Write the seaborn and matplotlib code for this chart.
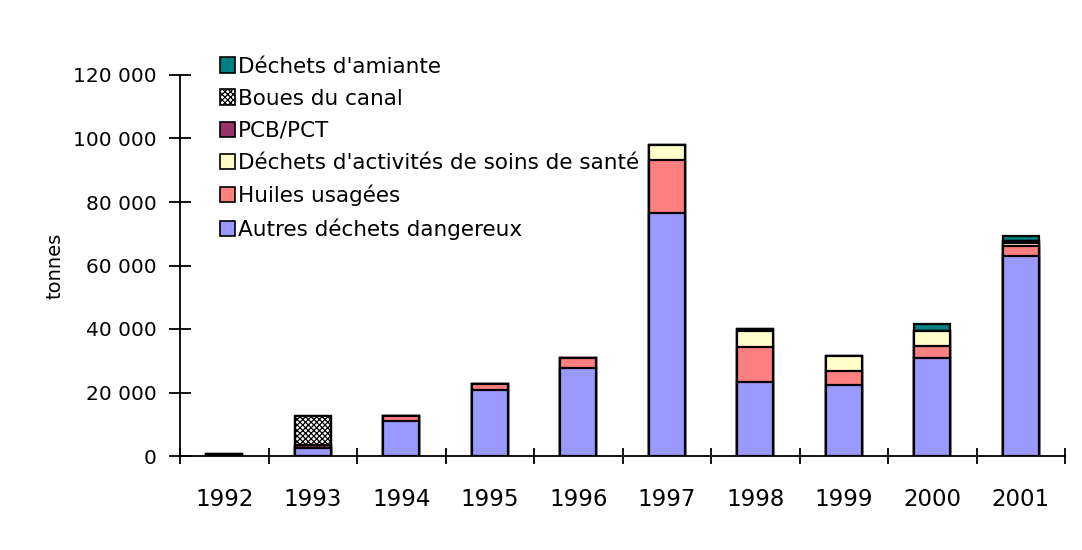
import matplotlib
matplotlib.use("Agg")
import matplotlib.pyplot as plt
from matplotlib.patches import Patch
from matplotlib.ticker import FuncFormatter, FixedLocator
import numpy as np
import pandas as pd
import seaborn as sns

years = ["1992", "1993", "1994", "1995", "1996", "1997", "1998", "1999", "2000", "2001"]
autres = [0, 2500, 11000, 20800, 27600, 76500, 23200, 22500, 30800, 63000]
huiles = [0, 0, 1500, 1900, 3300, 16700, 11200, 4400, 3900, 3200]
soins = [0, 0, 0, 0, 0, 4800, 4900, 4600, 4800, 1000]
pcb = [600, 900, 0, 0, 0, 0, 800, 0, 0, 500]
boues = [0, 9300, 0, 0, 0, 0, 0, 0, 0, 0]
amiante = [0, 0, 0, 0, 0, 0, 0, 0, 2000, 1500]

series_names = ["Autres déchets dangereux", "Huiles usagées",
                "Déchets d'activités de soins de santé", "PCB/PCT",
                "Boues du canal", "Déchets d'amiante"]
series_vals = [autres, huiles, soins, pcb, boues, amiante]
colors = ["#9999FF", "#FF8080", "#FFFFCC", "#993366", "white", "#008080"]
hatches = [None, None, None, None, "xxxxxx", None]

sns.set_style("white")
plt.rcParams["font.family"] = ["DejaVu Sans"]
plt.rcParams["hatch.linewidth"] = 0.9
plt.rcParams["text.color"] = "black"
plt.rcParams["xtick.color"] = "black"
plt.rcParams["ytick.color"] = "black"
plt.rcParams["axes.labelcolor"] = "black"

fig = plt.figure(figsize=(10.82, 5.5), dpi=100)
ax = fig.add_axes([180 / 1082, 1 - 456 / 550, (1065 - 180) / 1082, (456 - 75) / 550])

cum = np.cumsum(np.array(series_vals), axis=0)
for i in range(len(series_names) - 1, -1, -1):
    df = pd.DataFrame({"year": years, "value": cum[i]})
    kw = {}
    if hatches[i]:
        kw["hatch"] = hatches[i]
    sns.barplot(data=df, x="year", y="value", order=years, color=colors[i],
                saturation=1, width=0.41, edgecolor="black", linewidth=1.6,
                ax=ax, **kw)

ax.set_xlim(-0.5, 9.5)
ax.set_ylim(0, 120000)
for s in ["top", "right"]:
    ax.spines[s].set_visible(False)
for s in ["left", "bottom"]:
    ax.spines[s].set_linewidth(1.3)
    ax.spines[s].set_color("black")

ax.set_yticks(np.arange(0, 120001, 20000))
ax.yaxis.set_major_formatter(FuncFormatter(lambda v, p: f"{int(v):,}".replace(",", " ")))
ax.tick_params(axis="y", left=True, direction="inout", length=16, width=1.3,
               labelsize=14.5, pad=9)

ax.set_xticks(range(len(years)))
ax.set_xticklabels(years)
ax.xaxis.set_minor_locator(FixedLocator(np.arange(-0.5, 10, 1.0)))
ax.tick_params(axis="x", which="major", bottom=False, length=0, labelsize=16.5, pad=23)
ax.tick_params(axis="x", which="minor", bottom=True, direction="inout", length=12, width=1.3)
ax.set_xlabel("")
ax.set_ylabel("tonnes", fontsize=14, labelpad=6)

handles = [Patch(facecolor=colors[i], edgecolor="black", linewidth=1.2,
                 hatch=hatches[i]) for i in range(len(series_names) - 1, -1, -1)]
labels = [series_names[i] for i in range(len(series_names) - 1, -1, -1)]
leg = fig.legend(handles, labels, loc="upper left", bbox_to_anchor=(211 / 1082, 1 - 48 / 550),
                 frameon=False, fontsize=15.5, handlelength=0.72, handleheight=0.72,
                 handletextpad=0.15, labelspacing=0.56, borderaxespad=0)

fig.savefig("out.png", dpi=100, facecolor="white")
